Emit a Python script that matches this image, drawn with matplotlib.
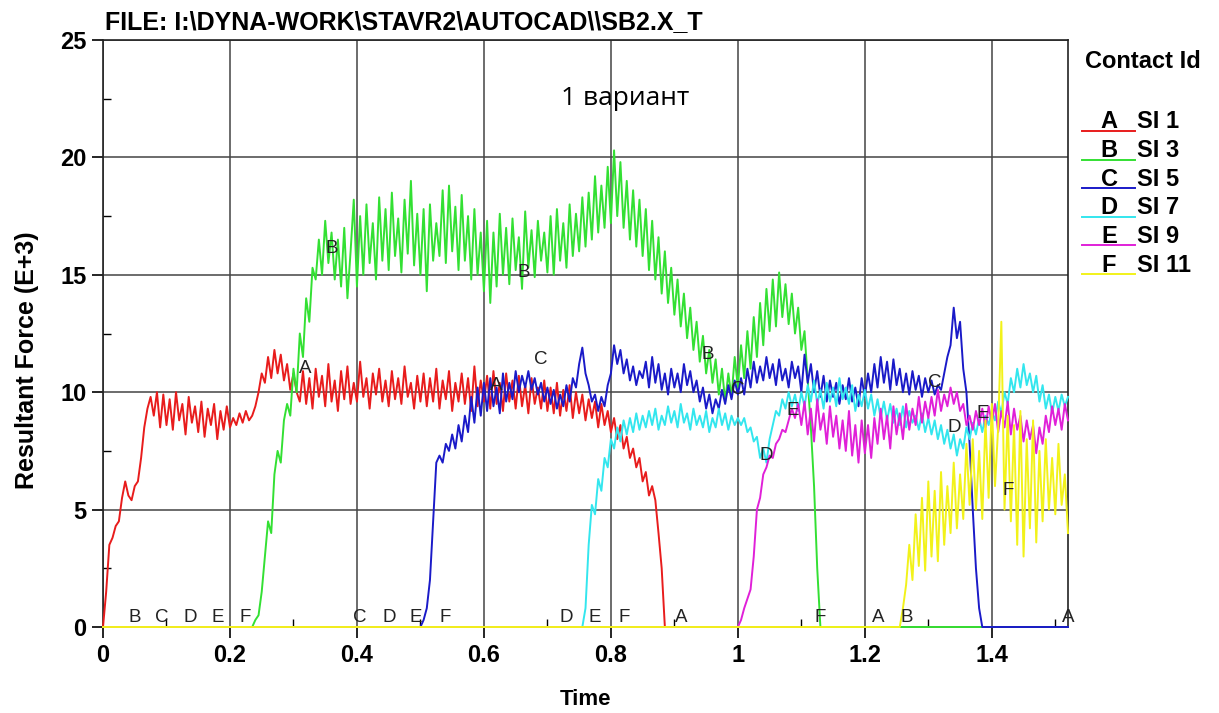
import numpy as np
import matplotlib.pyplot as plt
from matplotlib.lines import Line2D
from matplotlib.ticker import MultipleLocator

plt.rcParams['font.family'] = ['Liberation Sans', 'DejaVu Sans']

# Шаг по времени для всех кривых, конец шкалы времени
STEP = 0.005
T_END = 1.52

# Кривые (время = старт + STEP * i)
a_start = 0.0
a_vals = [0, 1.5, 3.5, 3.8, 4.3, 4.5, 5.5, 6.2, 5.6, 5.4, 6.0, 6.2, 7.2, 8.5, 9.3, 9.8,
          9.0, 10.0, 8.5, 9.9, 8.6, 9.7, 8.4, 10.0, 8.8, 9.5, 8.2, 9.8, 8.7, 9.4, 8.3, 9.6,
          8.1, 9.3, 8.6, 9.5, 8.0, 9.2, 8.4, 9.4, 8.5,
          8.9, 8.6, 9.1, 8.7, 9.2, 8.8, 9.0, 9.4,
          10.0, 10.8, 10.4, 11.5, 10.6, 11.8, 10.8, 11.6, 10.5, 11.2, 10.1, 10.8,
          10.0, 9.6, 10.9, 9.5, 10.6, 9.3, 11.0, 9.8, 10.7, 9.4, 11.2, 9.6, 10.5, 9.2, 10.9, 9.7,
          11.1, 9.5, 10.4, 9.6, 11.3, 9.8, 10.6, 9.3, 10.8, 9.9, 11.0, 9.6, 10.5, 9.4, 10.9, 9.7,
          10.6, 9.5, 11.1, 9.8, 10.4, 9.3, 10.7, 9.6,
          10.8, 9.4, 10.6, 9.6, 11.0, 9.3, 10.5, 9.7, 10.9, 9.2, 10.4, 9.6, 10.8, 9.5, 10.6, 9.2,
          11.1, 9.4, 10.5, 9.6, 10.7, 9.3, 10.9, 9.5, 10.4, 9.2, 10.8, 9.6, 10.5, 9.3, 10.7, 9.4,
          10.3, 9.1, 10.6, 9.5, 10.2, 9.3, 10.5, 9.2,
          10.2, 9.1, 10.4, 9.0, 10.1, 9.2, 10.3, 8.9, 10.0, 9.1,
          9.9, 8.8, 9.7, 8.9, 9.6, 8.5, 9.5, 8.6, 9.2, 8.3,
          8.9, 8.0, 8.6, 7.6, 8.1, 7.2, 7.6, 6.8, 7.2, 6.2,
          6.6, 5.6, 6.0, 5.4, 4.0, 2.5, 0.0]

b_start = 0.235
b_vals = [0, 0.3, 0.5, 1.5, 3.0, 4.5, 4.0, 6.5, 7.5, 7.0, 8.8, 9.5, 9.0, 11.0, 10.0, 12.5,
          11.5, 14.0, 13.0, 15.3, 14.8, 16.5, 15.0, 17.3, 15.5, 16.8, 14.8, 16.5, 14.5, 17.0, 14.0, 16.0,
          18.2, 14.5, 17.5, 15.0, 18.0, 15.5, 17.2, 14.8, 18.3, 15.6, 17.8, 15.2, 18.5, 15.8, 17.4, 15.1,
          18.2, 15.9, 19.0, 15.4, 17.6, 15.0,
          17.8, 14.3, 18.0, 15.6, 17.2, 15.8, 18.6, 15.5, 18.8, 16.0, 17.9, 15.2, 18.4, 15.6, 17.5, 14.8,
          17.8, 15.0, 16.8, 14.3,
          17.3, 13.8, 16.8, 14.5, 17.6, 15.0, 17.0, 14.6, 17.4, 15.2, 16.6, 14.4, 17.7, 15.3, 16.9, 14.9,
          17.3, 15.6, 16.8, 15.1,
          17.5, 15.0, 17.8, 15.6, 17.2, 15.3, 18.0, 15.8, 17.6, 16.0, 18.3, 16.2, 18.5, 16.5, 19.2, 16.8,
          18.8, 17.0, 19.6, 17.2,
          20.3, 17.5, 19.8, 17.0, 19.0, 16.5, 18.6, 16.2, 18.2, 15.8, 17.8, 15.2, 17.3, 14.8, 16.6, 14.2,
          16.0, 13.8, 15.3, 13.3,
          14.8, 12.8, 14.2, 12.3, 13.6, 11.8, 13.0, 11.3, 12.4, 10.8, 11.8, 10.4, 11.4, 9.9, 11.0, 9.6,
          10.8, 9.8, 11.5, 10.2,
          12.0, 10.6, 12.6, 11.0, 13.2, 11.5, 13.8, 12.0, 14.4, 12.6, 14.8, 12.8, 15.1, 13.2, 14.6, 12.9,
          14.2, 12.5, 13.6, 11.8, 12.6, 10.5, 8.5, 6.0, 2.5, 0]

c_start = 0.50
c_vals = [0, 0.3, 0.8, 2.0, 4.5, 7.0, 7.3, 7.0, 7.8, 7.5, 8.2, 7.6, 8.6, 7.9, 9.0, 8.3,
          9.8, 8.7, 10.2, 9.0, 10.4,
          9.2, 10.6, 9.4, 10.2, 9.1, 10.8, 9.6, 10.4, 9.7, 10.9, 10.0, 10.7, 10.2, 10.9, 10.1, 10.6,
          9.9, 10.4, 9.6, 10.2,
          9.5, 10.1, 9.3, 9.9, 9.4, 10.3, 9.6, 10.6, 10.2, 11.2, 11.9, 10.8, 10.3, 9.6, 9.9, 9.2,
          9.8, 9.4, 10.3, 10.8,
          12.0, 11.2, 11.8, 10.8, 11.4, 10.5, 11.1, 10.3, 10.9, 10.6, 11.3, 10.2, 11.5, 10.4, 11.2, 10.1,
          10.8, 9.9, 11.0, 10.2,
          10.8, 10.0, 11.2, 10.3, 10.9, 10.0, 10.5, 9.6, 10.2, 9.3, 9.9, 9.1, 9.7, 9.3, 10.1, 9.5,
          10.3, 9.7, 10.5, 9.9,
          10.6, 9.9, 11.0, 10.2, 11.3, 10.4, 11.1, 10.5, 11.5, 10.6, 11.2, 10.3, 11.4, 10.5, 11.0, 10.2,
          11.3, 10.6, 11.1, 10.0,
          11.6, 10.4, 11.2, 10.0, 10.9, 9.8, 10.7, 9.6, 10.5, 9.8, 10.4, 9.5, 10.3, 9.7, 10.6, 9.6,
          10.2, 9.4, 10.6, 9.8,
          10.8, 10.0, 11.2, 10.2, 11.5, 10.4, 11.3, 10.1, 11.4, 10.3, 11.0, 10.0, 10.8, 9.9, 10.9, 10.1,
          10.7, 9.8, 10.6, 10.0,
          10.5, 9.9, 10.3, 10.1, 10.8, 11.5, 12.0, 13.6, 12.3, 13.0, 11.0, 10.0, 7.8, 5.0, 2.5, 0.8, 0]

d_start = 0.755
d_vals = [0, 0.8, 3.5, 5.2, 4.8, 6.3, 5.8, 7.2, 6.8, 8.0,
          7.6, 8.5, 7.9, 8.8, 8.2, 8.9, 8.3, 9.1, 8.4, 9.0, 8.5, 9.2, 8.6, 9.3, 8.4, 9.0,
          8.6, 9.4, 8.7, 9.2,
          8.5, 9.5, 8.7, 9.1, 8.4, 9.3, 8.6, 9.0, 8.5, 9.2, 8.3, 8.9, 8.5, 9.3, 8.6, 9.1,
          8.4, 9.0, 8.6, 8.9,
          8.6, 8.9, 8.3, 8.5, 7.9, 8.1, 7.2, 7.6, 7.0, 8.0, 8.6, 9.2, 9.0, 9.7, 9.3, 10.0,
          9.4, 9.9, 9.2, 10.0,
          9.4, 10.3, 9.6, 10.5, 9.5, 10.1, 9.3, 10.4, 9.6, 10.2, 9.4, 10.6, 9.7, 10.2, 9.5, 10.3,
          9.2, 9.9, 9.4, 10.1,
          9.3, 9.9, 9.0, 9.7, 8.9, 9.6, 8.8, 9.5, 8.7, 9.3, 8.6, 9.4, 8.5, 9.2, 8.7, 9.0,
          8.4, 9.1, 8.3, 8.9,
          8.2, 8.8, 8.0, 8.6, 7.8, 8.4, 7.6, 8.2, 7.3, 8.0, 7.6, 8.5, 8.0, 8.7, 8.2, 8.9,
          8.3, 9.0, 8.6, 9.2,
          8.8, 9.6, 9.1, 10.0, 9.5, 10.6, 10.0, 11.0, 10.2, 11.2, 10.3, 10.8, 10.0, 10.7, 9.6, 10.3,
          9.3, 9.9, 9.1, 9.8, 9.2, 9.9, 9.4, 9.8]

e_start = 1.0
e_vals = [0, 0.3, 0.8, 1.2, 1.6, 3.0, 5.0, 5.5, 6.5, 6.8, 7.3, 7.2, 7.8, 8.0, 8.4, 8.3,
          8.8, 9.3, 8.9, 9.5, 8.6,
          9.6, 8.2, 9.3, 7.9, 9.7, 8.4, 9.1, 7.8, 9.4, 8.1, 9.0, 7.6, 8.8, 7.5, 9.2, 7.3,
          8.6, 7.0, 8.8, 7.4,
          8.6, 7.2, 8.9, 7.8, 9.3, 8.0, 9.0, 7.6, 9.4, 8.2, 9.1, 8.0, 9.5, 8.4, 9.3, 8.6,
          9.8, 8.7, 9.6, 8.9,
          9.8, 9.0, 10.1, 9.2, 9.9, 9.4, 10.2, 9.5, 10.0, 9.2, 9.5, 8.6, 9.0, 8.4, 9.2, 8.6,
          9.3, 8.5, 9.4, 8.7,
          9.5, 8.3, 9.2, 8.5, 9.6, 8.2, 9.3, 8.4, 9.0, 7.9, 8.8, 8.0, 8.6, 7.4, 8.5, 7.8,
          9.0, 8.3, 9.4, 8.6, 9.3, 8.4, 9.5, 8.8]

f_start = 1.255
f_vals = [0, 0.8, 1.8, 3.5, 2.0, 4.8, 2.6, 5.5, 2.4, 6.2,
          3.0, 5.8, 2.8, 6.6, 3.5, 6.0, 4.0, 7.0, 4.2, 6.5,
          4.6, 7.8, 5.2, 8.0, 5.0, 7.5, 4.6, 8.8, 5.5, 9.5,
          6.0, 8.5, 13.0, 5.0, 9.0, 4.5, 8.6, 3.5, 9.2, 3.0,
          8.0, 4.2, 8.8, 3.6, 7.5, 4.5, 8.0, 5.0, 7.2, 4.8,
          7.8, 5.2, 6.5, 4.0]

series_ids = ['A', 'B', 'C', 'D', 'E', 'F']
series_names = ['SI 1', 'SI 3', 'SI 5', 'SI 7', 'SI 9', 'SI 11']
series_starts = [a_start, b_start, c_start, d_start, e_start, f_start]
series_vals = [a_vals, b_vals, c_vals, d_vals, e_vals, f_vals]
colors = ['#e81c1c', '#33e033', '#1a1ac8', '#33e6ee', '#e020d8', '#f2f21a']

# Подписи-буквы на кривых (id, время, сила)
curve_labels = [('B', 0.361, 16.1), ('A', 0.318, 11.0), ('B', 0.663, 15.1), ('A', 0.619, 10.3),
                ('C', 0.690, 11.4), ('B', 0.953, 11.6), ('C', 1.000, 10.1), ('E', 1.087, 9.2),
                ('D', 1.045, 7.3), ('C', 1.310, 10.4), ('E', 1.385, 9.1), ('D', 1.341, 8.5),
                ('F', 1.426, 5.8)]
# Подписи-буквы на нулевой линии
zero_labels = ['B', 'C', 'D', 'E', 'F', 'C', 'D', 'E', 'F', 'D', 'E', 'F', 'A', 'F', 'A', 'B', 'A']
zero_label_t = [0.05, 0.093, 0.137, 0.181, 0.224, 0.405, 0.451, 0.493, 0.539,
                0.73, 0.775, 0.821, 0.911, 1.13, 1.221, 1.266, 1.521]

W, H = 1219, 713
fig = plt.figure(figsize=(W / 100, H / 100), dpi=100)
ax = fig.add_axes([103 / W, 1 - 627 / H, 965 / W, 587 / H])

for sid, start, vals, col in zip(series_ids, series_starts, series_vals, colors):
    t = start + STEP * np.arange(len(vals))
    tt = np.concatenate([[0.0], t])
    ff = np.concatenate([[0.0], vals])
    if vals[-1] == 0:
        tt = np.append(tt, T_END)
        ff = np.append(ff, 0.0)
    ax.plot(tt, ff, color=col, lw=1.4, zorder=3, clip_on=False)

for s, tx, fy in curve_labels:
    ax.text(tx, fy, s, fontsize=13.5, color='#222222', ha='center', va='center', zorder=5)
for s, tx in zip(zero_labels, zero_label_t):
    ax.text(tx, 0.42, s, fontsize=13.5, color='#222222', ha='center', va='center', zorder=5)

ax.set_xlim(0, T_END)
ax.set_ylim(0, 25)
ax.xaxis.set_major_locator(MultipleLocator(0.2))
ax.xaxis.set_minor_locator(MultipleLocator(0.1))
ax.yaxis.set_major_locator(MultipleLocator(5))
ax.yaxis.set_minor_locator(MultipleLocator(2.5))
ax.set_xticks([0, 0.2, 0.4, 0.6, 0.8, 1.0, 1.2, 1.4])
ax.set_xticklabels(['0', '0.2', '0.4', '0.6', '0.8', '1', '1.2', '1.4'])
ax.tick_params(which='major', direction='out', length=8, width=1.2, labelsize=17, pad=4)
ax.tick_params(which='minor', direction='in', length=6, width=1.0)
for lab in ax.get_xticklabels() + ax.get_yticklabels():
    lab.set_fontweight('bold')
ax.grid(True, which='major', color='#444444', lw=1.1)
for sp in ax.spines.values():
    sp.set_linewidth(1.2)
    sp.set_color('#222222')

ax.set_xlabel('Time', fontsize=16, fontweight='bold', labelpad=16)
ax.set_ylabel('Resultant Force (E+3)', fontsize=18, fontweight='bold')
ax.yaxis.set_label_coords(-0.066, 0.455)

fig.text(105 / W, 1 - 22 / H, 'FILE: I:\\DYNA-WORK\\STAVR2\\AUTOCAD\\\\SB2.X_T',
         fontsize=18, fontweight='bold', ha='left', va='center')
ax.text(0.823, 22.5, '1 вариант', fontsize=19, ha='center', va='center',
        family=['Open Sans', 'DejaVu Sans'])

# Легенда справа
fig.text(1085 / W, 1 - 62 / H, 'Contact Id', fontsize=17, fontweight='bold', ha='left', va='center')
for i, (sid, name, col) in enumerate(zip(series_ids, series_names, colors)):
    yy = 122 + i * 28.6
    fig.add_artist(Line2D([1082 / W, 1135 / W], [1 - (yy + 9) / H] * 2, color=col, lw=1.4))
    fig.text(1109 / W, 1 - yy / H, sid, fontsize=17, fontweight='bold', ha='center', va='center')
    fig.text(1137 / W, 1 - yy / H, name, fontsize=17, fontweight='bold', ha='left', va='center')

fig.savefig('out.png', dpi=100)
